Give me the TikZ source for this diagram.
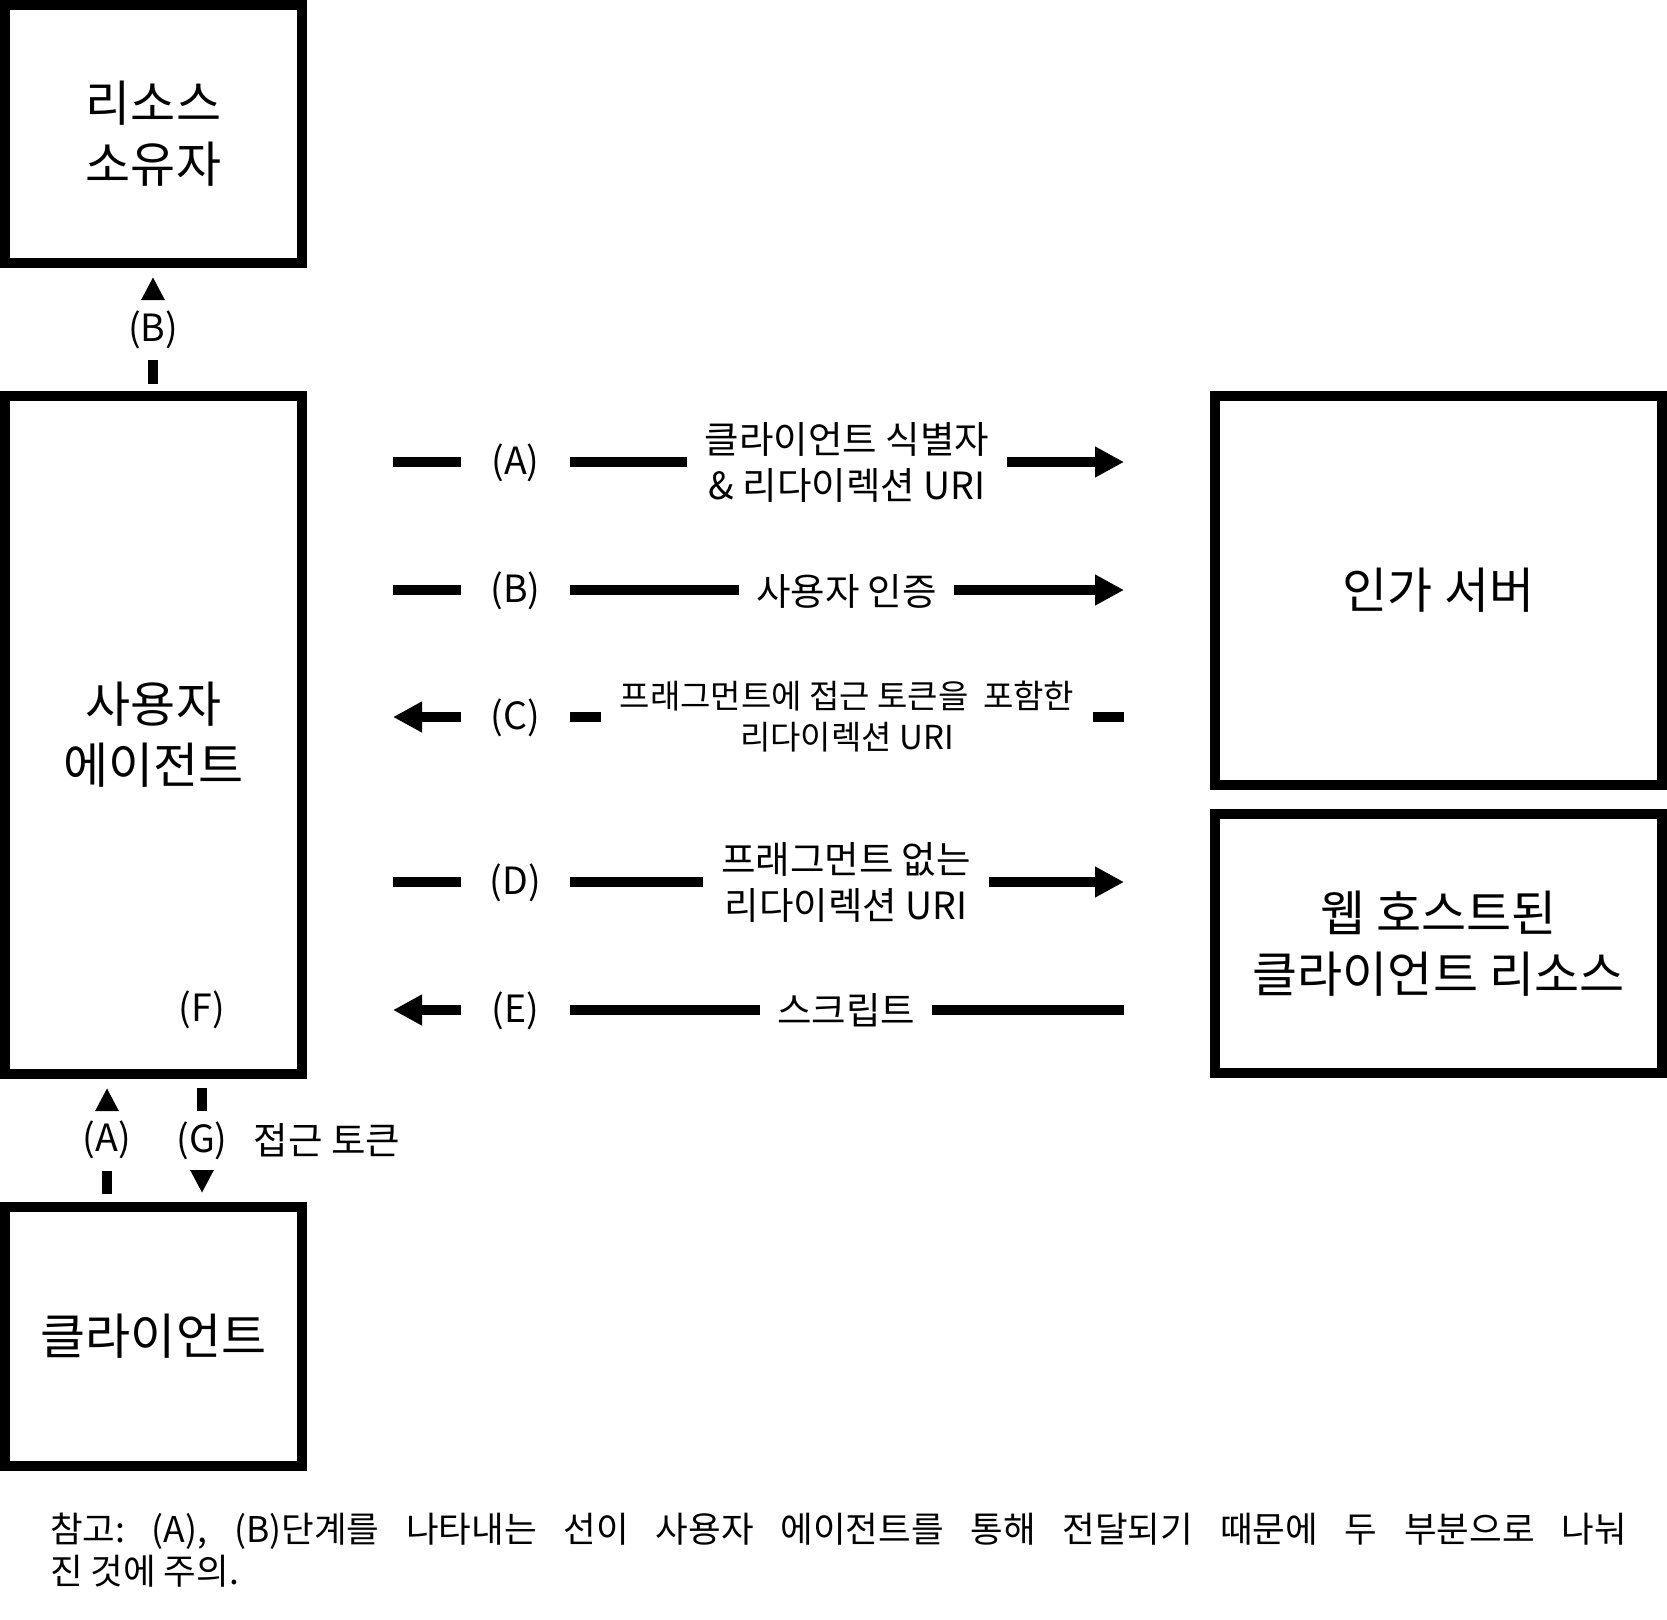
\documentclass[tikz,border=0pt]{standalone}
\usepackage{fontspec}
\setmainfont{Noto Sans CJK KR}
\usetikzlibrary{arrows.meta}
\begin{document}
\frenchspacing
\begin{tikzpicture}[x=1pt,y=-1pt,
  box/.style={draw=black,line width=10pt,inner sep=0pt,outer sep=0pt,align=center,font=\fontsize{49}{61}\selectfont},
  lbl/.style={inner sep=0pt,outer sep=0pt,font=\fontsize{37.5}{46}\selectfont,align=center},
  small/.style={font=\fontsize{33}{41}\selectfont},
  conn/.style={line width=9.5pt},
  vconn/.style={line width=10pt},
  hhead/.style={-{Triangle[length=29pt,width=29pt]}},
  vhead/.style={-{Triangle[length=23pt,width=22pt]}},
]
\useasboundingbox (0,0) rectangle (1667,1619);
\fill[white] (0,0) rectangle (1667,1619);

% boxes
\node[box,minimum width=297pt,minimum height=258pt] (ro) at (153.5,134) {리소스\\소유자};
\node[box,minimum width=297pt,minimum height=678pt] (ua) at (153.5,735) {사용자\\에이전트};
\node[box,minimum width=297pt,minimum height=259pt] (cl) at (153.5,1336.5) {클라이언트};
\node[box,minimum width=447pt,minimum height=389pt] (as) at (1438.5,590.5) {인가 서버};
\node[box,minimum width=447pt,minimum height=259pt] (web) at (1438.5,943.5) {웹 호스트된\\클라이언트 리소스};

% row A
\coordinate (aL) at (393,462); \coordinate (aR) at (1124,462);
\node[lbl,minimum width=109pt] (la) at (515.5,463) {(A)};
\node[lbl,minimum width=320pt] (ta) at (847,462) {클라이언트 식별자\\\& 리다이렉션 URI};
\draw[conn] (aL) -- (la.west |- aL);
\draw[conn] (la.east |- aL) -- (ta.west |- aL);
\draw[conn,hhead] (ta.east |- aL) -- (aR);

% row B
\coordinate (bL) at (393,590); \coordinate (bR) at (1124,590);
\node[lbl,minimum width=109pt] (lb) at (515.5,591) {(B)};
\node[lbl,minimum width=215pt] (tb) at (846.5,591) {사용자 인증};
\draw[conn] (bL) -- (lb.west |- bL);
\draw[conn] (lb.east |- bL) -- (tb.west |- bL);
\draw[conn,hhead] (tb.east |- bL) -- (bR);

% row C
\coordinate (cL) at (393,717); \coordinate (cR) at (1124,717);
\node[lbl,minimum width=109pt] (lc) at (515.5,718) {(C)};
\node[lbl,small,minimum width=492pt] (tc) at (847,717) {프래그먼트에 접근 토큰을~~포함한\\리다이렉션 URI};
\draw[conn,hhead] (lc.west |- cL) -- (cL);
\draw[conn] (lc.east |- cL) -- (tc.west |- cL);
\draw[conn] (tc.east |- cL) -- (cR);

% row D
\coordinate (dL) at (393,882); \coordinate (dR) at (1124,882);
\node[lbl,minimum width=109pt] (ld) at (515.5,883) {(D)};
\node[lbl,minimum width=286pt] (td) at (846,882) {프래그먼트 없는\\리다이렉션 URI};
\draw[conn] (dL) -- (ld.west |- dL);
\draw[conn] (ld.east |- dL) -- (td.west |- dL);
\draw[conn,hhead] (td.east |- dL) -- (dR);

% row E
\coordinate (eL) at (393,1010); \coordinate (eR) at (1124,1010);
\node[lbl,minimum width=109pt] (le) at (515.5,1011) {(E)};
\node[lbl,minimum width=172pt] (te) at (846,1010) {스크립트};
\draw[conn,hhead] (le.west |- eL) -- (eL);
\draw[conn] (le.east |- eL) -- (te.west |- eL);
\draw[conn] (te.east |- eL) -- (eR);

% vertical B
\coordinate (vbB) at (153,384); \coordinate (vbT) at (153,277);
\node[lbl,minimum height=60pt] (lbv) at (153,330) {(B)};
\draw[vconn] (vbB) -- (lbv.south -| vbB);
\draw[vconn,vhead] (lbv.north -| vbB) -- (vbT);

% vertical A
\coordinate (vaB) at (107,1194); \coordinate (vaT) at (107,1088);
\node[lbl,minimum height=61pt] (lav) at (107,1140) {(A)};
\draw[vconn] (vaB) -- (lav.south -| vaB);
\draw[vconn,vhead] (lav.north -| vaB) -- (vaT);

% vertical G
\coordinate (vgT) at (202,1088); \coordinate (vgB) at (202,1193);
\node[lbl,minimum height=61pt] (lgv) at (202,1141) {(G)};
\draw[vconn] (vgT) -- (lgv.north -| vgT);
\draw[vconn,vhead] (lgv.south -| vgT) -- (vgB);
\node[lbl] (gtxt) at (327,1140) {접근 토큰};

\node[lbl] (f) at (202,1010) {(F)};

% note
\node[lbl,anchor=west,align=left,font=\fontsize{35.5}{42}\selectfont] (note) at (50,1550)
  {\makebox[1577pt][s]{참고: (A), (B)단계를 나타내는 선이 사용자 에이전트를 통해 전달되기 때문에 두 부분으로 나눠}\\진 것에 주의.};
\end{tikzpicture}
\end{document}
